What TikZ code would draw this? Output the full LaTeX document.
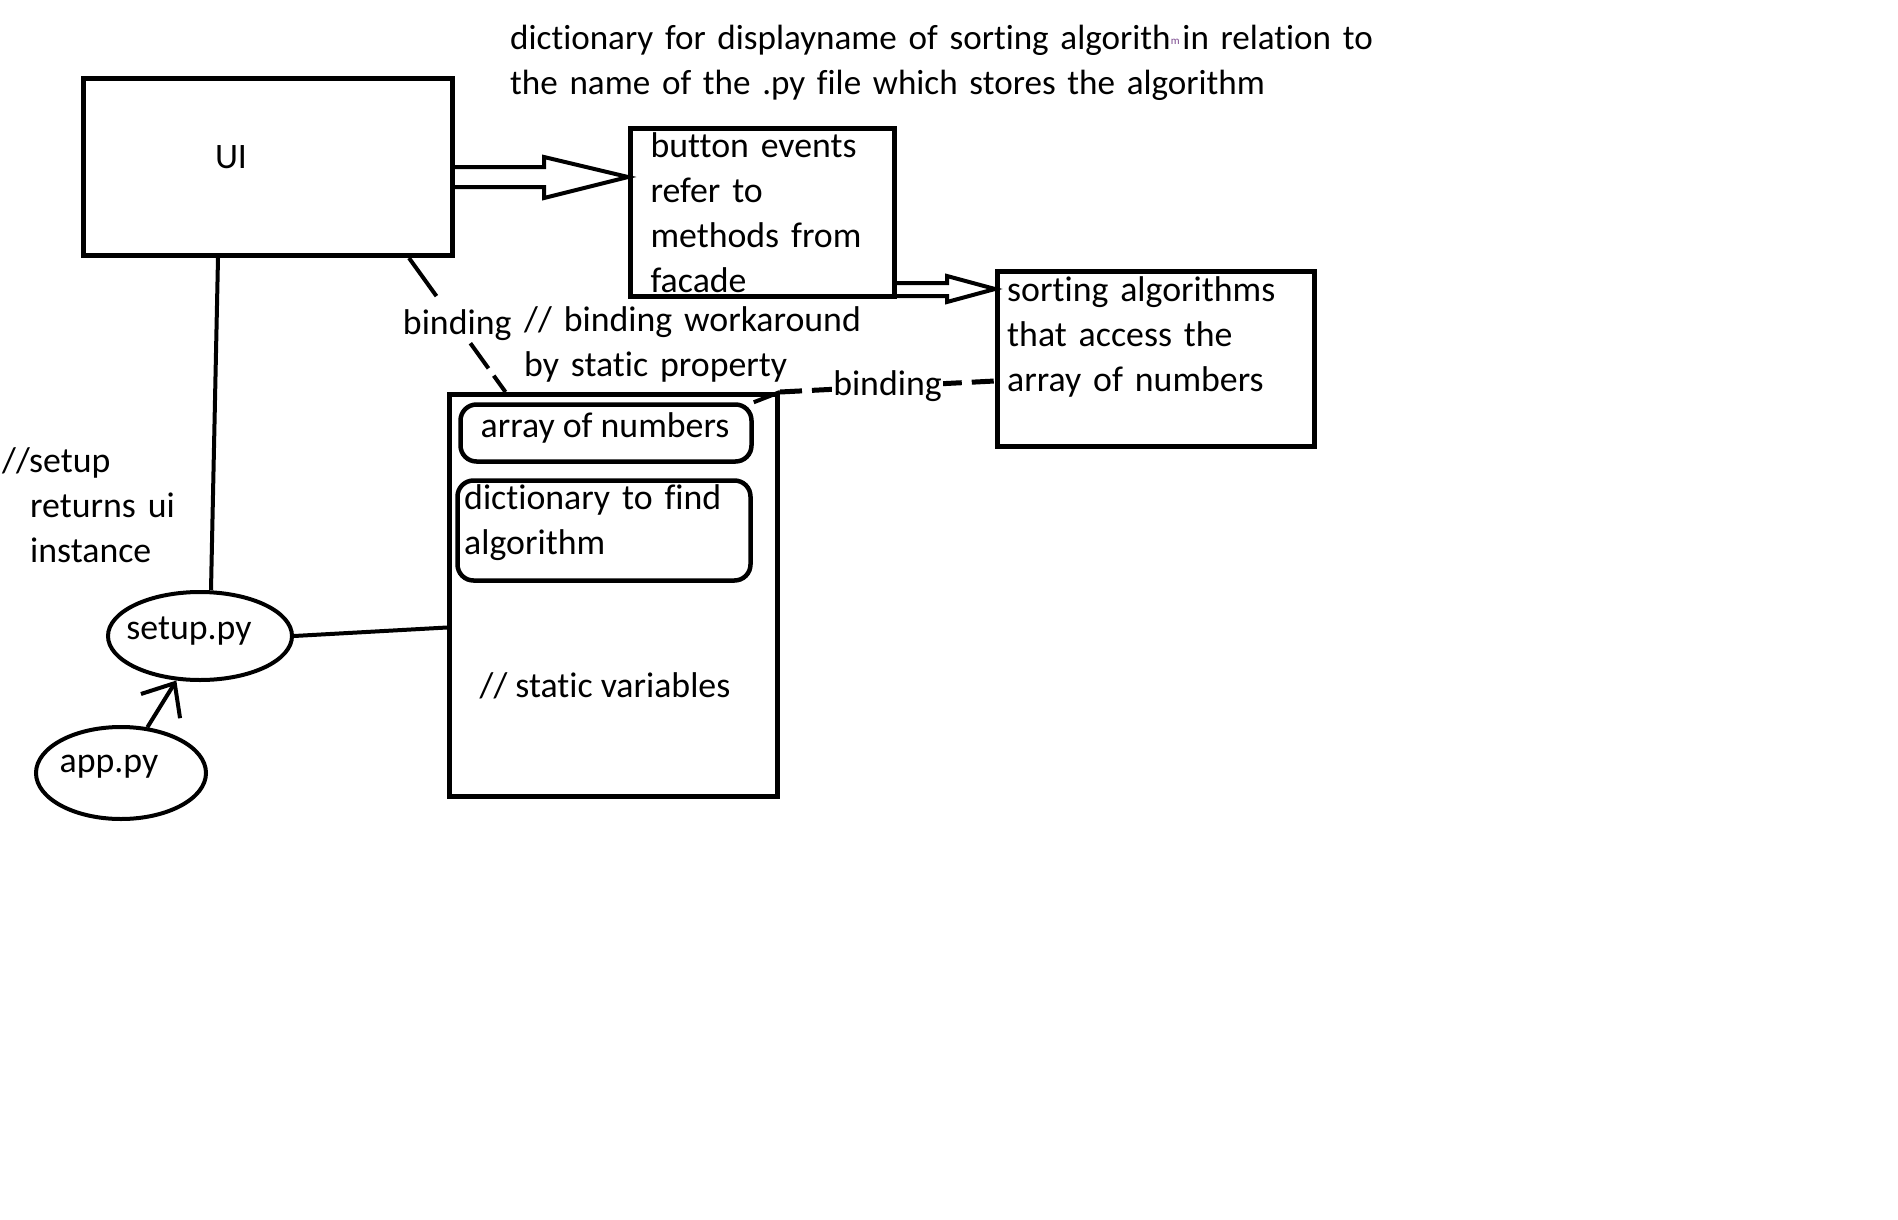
\documentclass[tikz,border=0pt]{standalone}
\usepackage{fontspec}
\setmainfont{Carlito}[Ligatures=NoCommon]
\usepackage{tikz}
\usetikzlibrary{positioning, arrows.meta, shapes.geometric}
\definecolor{tinym}{RGB}{120,70,140}

\begin{document}
\begin{tikzpicture}[x=1pt, y=-1pt, >={Straight Barb[length=27pt, width=46pt]},
        font=\fontsize{35.8}{45}\selectfont,
        box/.style={draw, line width=5pt, inner sep=0pt},
        inbox/.style={draw, line width=4.5pt, rounded corners=16pt, inner sep=0pt},
        file/.style={draw, ellipse, line width=4pt, inner sep=0pt},
        txt/.style={inner sep=0pt, align=left},
        hollow/.style={line width=4pt, line join=miter},
        bind/.style={line width=4pt, dash pattern=on 47pt off 58pt on 31pt off 9pt on 30pt off 0pt},
        bindshort/.style={line width=5pt, dash pattern=on 22pt off 10pt},
    ]
            \useasboundingbox (0,0) rectangle (1898,1220);

            % note on top
            \node[txt, text width=950pt, anchor=base west, font=\fontsize{35.1}{45}\selectfont] (dictnote) at (510,50)
                {dictionary for displayname of sorting algorith\rlap{\raisebox{5pt}{\fontsize{11}{11}\selectfont\color{tinym}m}} in relation to\\
                 the name of the .py file which stores the algorithm};

            % UI
            \node[box, minimum width=369pt, minimum height=177pt] (ui) at (268,167) {};
            \node[inner sep=0pt] (uitext) at (231,157) {UI};

            % facade
            \node[box, minimum height=168pt, inner xsep=20pt, text width=224pt, align=left] (facade) at (762.5,212.5)
                {button events\\refer to\\methods from\\facade};

            % sorting algorithms
            \node[box, minimum width=317pt, minimum height=175pt] (sort) at (1156,359) {};
            \node[txt, text width=300pt, anchor=base west] (sorttext) at (1007,301)
                {sorting algorithms\\that access the\\array of numbers};

            % static variables
            \node[box, minimum width=328pt, minimum height=402pt] (static) at (613.5,595.5) {};
            \node[inbox, minimum width=291pt, minimum height=57pt] (numbers) at (606,433) {};
            \node[inner sep=0pt] (numberstext) at (605,428) {array of numbers};
            \node[inbox, minimum width=293pt, minimum height=100pt] (dict) at (604,530.5) {};
            \node[txt, text width=280pt, anchor=base west] (dicttext) at (464,509)
                {dictionary to find\\algorithm};
            \node[inner sep=0pt] (statictext) at (605,686) {// static variables};

            % files
            \node[file, minimum width=184pt, minimum height=88pt] (setup) at (200,636) {};
            \node[inner sep=0pt] (setuptext) at (189,631) {setup.py};
            \node[file, minimum width=170pt, minimum height=92pt] (app) at (121,773) {};
            \node[inner sep=0pt] (apptext) at (109,767) {app.py};

            \node[txt, text width=200pt, anchor=base west] (setupnote) at (2,472)
                {//setup\\\hspace*{28pt}returns ui\\\hspace*{28pt}instance};
            \node[txt, text width=400pt, anchor=base west] (worknote) at (524,331)
                {// binding workaround\\by static property};

            % hollow arrows
            \draw[hollow] (ui.east |- 0,167) -- (544,167) -- (544,157) -- (facade.west |- 0,177)
                -- (544,198) -- (544,187) -- (ui.east |- 0,187);
            \draw[hollow] (facade.east |- 0,283) -- (947,283) -- (947,276) -- (sort.west |- 0,289)
                -- (947,302) -- (947,296) -- (facade.east |- 0,296);

            % bindings
            \draw[bind] ([xshift=141pt]ui.south) -- node[inner sep=2pt] (binding) {binding}
                ([xshift=-108pt]static.north);
            \draw[bindshort] (static.north east) -- node[fill=white, inner sep=1pt] (bindingsort) {binding}
                ([yshift=-22pt]sort.west);
            \draw[line width=4pt] (numbers.north east) -- (static.north east);

            % plain links
            \draw[line width=4pt] ([xshift=-50pt]ui.south) -- ([xshift=11pt]setup.north);
            \draw[line width=4pt] (setup.east) -- ([yshift=-32pt]static.west);
            \draw[line width=4pt, ->] (app.60) -- (setup.242);
        \end{tikzpicture}
\end{document}
